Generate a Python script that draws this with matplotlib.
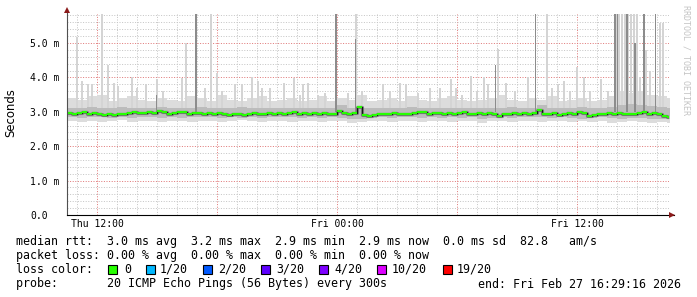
import numpy as np
import matplotlib
matplotlib.use("Agg")
import matplotlib.pyplot as plt
from matplotlib.patches import Rectangle

# ---------------- data ----------------
# median rtt (ms), one value every 15 minutes starting Thu 10:30
median_ms = [2.97, 2.95, 2.96, 2.98, 2.94, 2.96, 2.95,
             2.92, 2.94, 2.91, 2.93,
             2.95, 2.97, 2.98, 2.96, 2.97, 2.99, 2.96,
             3.02, 2.98, 2.95,
             2.96, 2.98, 3.00, 2.94, 2.96, 2.97, 2.95,
             2.97, 2.94, 2.96, 2.93, 2.92, 2.95, 2.94, 2.92, 2.94,
             2.96, 2.93, 2.95, 2.96,
             2.95, 2.97, 2.94, 2.96, 2.98, 2.95, 2.96, 2.94, 2.97, 2.95, 2.96, 2.93, 2.95,
             3.03, 2.96,
             2.94, 2.97,
             3.15,
             2.90, 2.87, 2.90,
             2.94, 2.95, 2.93, 2.96, 2.94, 2.95, 2.93, 2.96,
             3.00, 2.98, 2.95, 2.97,
             2.96, 2.94, 2.97, 2.95, 2.96, 2.98, 2.95, 2.94, 2.96, 2.95, 2.97, 2.94,
             2.88,
             2.93, 2.95, 2.96, 2.94, 2.96, 2.95, 2.97,
             3.04,
             2.95, 2.93, 2.96, 2.92, 2.94, 2.96, 2.95,
             3.00, 2.97,
             2.88, 2.90, 2.93,
             2.95, 2.96, 2.95, 2.97, 2.93, 2.95, 2.94, 2.96,
             2.99, 2.95, 2.97,
             2.94, 2.87, 2.86]

# smoke envelope (ms), one value every 30 minutes
smoke_max = [3.40, 3.35, 3.45, 3.50, 3.30, 3.40, 3.45, 3.35, 3.30, 3.40,
             3.35, 3.30, 3.45, 3.40, 3.30, 3.50, 3.35, 3.30, 3.40, 3.45,
             3.30, 3.35, 3.40, 3.30, 3.35, 3.45, 3.30, 3.40, 3.35, 3.50,
             3.30, 3.35, 3.40, 3.30, 3.45, 3.35, 3.30, 3.40, 3.45, 3.35,
             3.30, 3.35, 3.40, 3.50, 3.35, 3.30, 3.40, 3.35, 3.45, 3.30,
             3.35, 3.40, 3.30, 3.35, 3.45, 3.60, 3.55, 3.60, 3.50, 3.45, 3.40]
smoke_min = [2.72, 2.70, 2.74, 2.70, 2.72, 2.75, 2.70, 2.72, 2.74, 2.70,
             2.73, 2.72, 2.70, 2.74, 2.72, 2.70, 2.73, 2.75, 2.72, 2.70,
             2.72, 2.74, 2.70, 2.72, 2.73, 2.70, 2.72, 2.74, 2.68, 2.70,
             2.72, 2.74, 2.70, 2.72, 2.73, 2.70, 2.74, 2.72, 2.70, 2.73,
             2.72, 2.68, 2.72, 2.74, 2.70, 2.72, 2.73, 2.70, 2.72, 2.74,
             2.70, 2.72, 2.70, 2.72, 2.68, 2.70, 2.72, 2.70, 2.68, 2.70, 2.68]
mid_hi = [3.12, 3.10, 3.14, 3.10, 3.12, 3.15, 3.10, 3.12, 3.10, 3.13,
          3.10, 3.12, 3.10, 3.14, 3.12, 3.10, 3.12, 3.14, 3.10, 3.12,
          3.10, 3.12, 3.10, 3.12, 3.11, 3.10, 3.12, 3.20, 3.12, 3.10,
          3.12, 3.10, 3.12, 3.10, 3.14, 3.12, 3.10, 3.12, 3.10, 3.12,
          3.10, 3.12, 3.10, 3.12, 3.14, 3.12, 3.10, 3.20, 3.12, 3.10,
          3.12, 3.14, 3.12, 3.10, 3.15, 3.20, 3.22, 3.20, 3.18, 3.15, 3.12]
mid_lo = [2.84, 2.83, 2.85, 2.84, 2.82, 2.84, 2.83, 2.85, 2.84, 2.82,
          2.84, 2.83, 2.85, 2.84, 2.84, 2.83, 2.84, 2.82, 2.84, 2.83,
          2.84, 2.85, 2.84, 2.83, 2.84, 2.82, 2.84, 2.83, 2.80, 2.80,
          2.82, 2.84, 2.83, 2.85, 2.84, 2.83, 2.84, 2.82, 2.84, 2.83,
          2.84, 2.80, 2.82, 2.84, 2.83, 2.84, 2.85, 2.84, 2.83, 2.84,
          2.82, 2.80, 2.83, 2.84, 2.82, 2.80, 2.82, 2.81, 2.80, 2.80, 2.79]

# isolated high pings: hours after Thu 10:30, top value in ms
spike_light_h = [0.52, 0.75, 1.05, 1.25, 1.77, 2.07, 2.35, 2.55, 3.23, 3.5,
                 3.95, 4.48, 4.8, 5.77, 5.93, 6.9, 7.2, 7.48, 7.75, 8.4,
                 8.75, 9.27, 9.55, 9.75, 10.15, 10.85, 11.37, 11.65, 11.8, 12.05,
                 12.55, 12.9, 14.05, 14.43, 14.75, 15.8, 16.15, 16.65, 16.93, 17.55,
                 18.15, 18.65, 19.2, 19.43, 19.75, 20.18, 20.5, 20.85, 21.05, 21.57,
                 21.93, 22.4, 23.03, 23.98, 24.25, 24.55, 24.85, 25.15, 25.48, 25.85,
                 26.15, 26.7, 27.05, 27.45, 27.6, 27.75, 27.9, 28.05, 28.2, 28.35,
                 28.5, 28.65, 28.95, 29.15, 29.65, 29.8]
spike_light_top = [5.18, 3.9, 3.8, 3.8, 5.86, 4.36, 3.85, 3.75, 4.02, 3.7,
                   3.8, 3.95, 3.6, 3.98, 5.01, 3.7, 5.86, 4.13, 3.6, 3.8,
                   3.8, 4.01, 3.9, 3.7, 3.7, 3.84, 3.98, 3.5, 3.8, 3.84,
                   3.5, 3.55, 3.55, 5.86, 3.6, 3.82, 3.6, 3.84, 3.82, 3.55,
                   3.7, 3.7, 3.95, 3.7, 3.5, 4.05, 3.6, 4.02, 3.8, 4.83,
                   3.84, 3.6, 4.0, 5.86, 3.7, 3.8, 3.9, 3.6, 4.31, 4.0,
                   3.6, 3.95, 3.6, 5.86, 5.86, 5.86, 5.86, 5.86, 5.86, 5.86,
                   5.86, 4.0, 4.8, 4.2, 5.58, 5.58]
spike_dark_h = [4.48, 6.45, 13.45, 14.43, 21.43, 23.43, 27.4, 27.53, 28.0, 28.4, 28.85, 29.43]
spike_dark_top = [3.5, 5.86, 5.86, 5.12, 4.36, 5.86, 5.86, 5.86, 5.86, 5.0, 5.86, 5.86]

ytick_vals = [0, 1, 2, 3, 4, 5]
ytick_labels = ["0.0", "1.0 m", "2.0 m", "3.0 m", "4.0 m", "5.0 m"]
xtick_vals = [1.5, 7.5, 13.5, 19.5, 25.5]
xtick_labels = ["Thu 12:00", "", "Fri 00:00", "", "Fri 12:00"]

loss_labels = ["0", "1/20", "2/20", "3/20", "4/20", "10/20", "19/20"]
loss_colors = ["#26ff00", "#00b8ff", "#0059ff", "#5e00ff", "#7e00ff", "#dd00ff", "#ff0000"]

# ---------------- figure ----------------
W, H = 697, 297
fig = plt.figure(figsize=(W / 100, H / 100), dpi=100)
fig.patch.set_facecolor("white")
L, R, T, B = 67, 669, 14, 215
ax = fig.add_axes([L / W, 1 - B / H, (R - L) / W, (B - T) / H])
ax.set_xlim(0, 30.1)
ax.set_ylim(0, (B - T) / 34.4)

mono = "DejaVu Sans Mono"

# grid
ax.set_yticks(ytick_vals)
ax.set_yticks(np.arange(0, 5.9, 0.2), minor=True)
ax.set_xticks(xtick_vals)
ax.set_xticks(np.arange(0.5, 30.1, 1.0), minor=True)
ax.grid(which="minor", color="#c6c6c6", linestyle=(0, (1, 1.6)), linewidth=0.72, zorder=0)
ax.grid(which="major", color="#e07a7a", linestyle=(0, (1, 1.6)), linewidth=0.72, zorder=0)
ax.set_axisbelow(True)

ax.set_yticklabels(ytick_labels, family=mono, fontsize=7, ha="left")
ax.set_xticklabels(xtick_labels, family=mono, fontsize=7)
ax.tick_params(axis="y", which="both", length=0, pad=26.6)
ax.tick_params(axis="x", which="both", length=0, pad=3)
for s in ax.spines.values():
    s.set_visible(False)

# smoke
t_smoke = np.arange(len(smoke_max) + 1) * 0.5
def ext(a):
    return list(a) + [a[-1]]
ax.fill_between(t_smoke, ext(smoke_min), ext(smoke_max), step="post",
                color="#dcdcdc", linewidth=0, zorder=1)
ax.bar(spike_light_h, np.array(spike_light_top) - 3.0, bottom=3.0, width=0.1,
       color="#d4d4d4", linewidth=0, zorder=1.5)
ax.fill_between(t_smoke, ext(mid_lo), ext(mid_hi), step="post",
                color="#bcbcbc", linewidth=0, zorder=2)
ax.bar(spike_dark_h, np.array(spike_dark_top) - 3.0, bottom=3.0, width=0.08,
       color="#8c8c8c", linewidth=0, zorder=2.5)

# median
t_med = np.arange(len(median_ms)) * 0.25
tx = list(t_med) + [t_med[-1] + 0.25]
ty = list(median_ms) + [median_ms[-1]]
ax.step(tx, ty, where="post", color="#8a8a8a", linewidth=2.3, zorder=3)
ax.step(tx, ty, where="post", color="#151515", linewidth=1.0, zorder=3.5)
ax.hlines(median_ms, t_med, t_med + 0.25, colors=loss_colors[0], linewidth=1.6, zorder=4)

# axis lines with arrows
ax.plot([0, 0], [0, 1.025], transform=ax.transAxes, color="#505050", lw=0.8,
        clip_on=False, zorder=6)
ax.plot([0, 1.008], [0, 0], transform=ax.transAxes, color="black", lw=0.8,
        clip_on=False, zorder=6)
ax.plot([0], [1.02], marker="^", markersize=4, color="#8b1a1a", transform=ax.transAxes,
        clip_on=False, zorder=7, markeredgewidth=0)
ax.plot([1.005], [0], marker=">", markersize=4, color="#8b1a1a", transform=ax.transAxes,
        clip_on=False, zorder=7, markeredgewidth=0)

# y label
fig.text(11 / W, 1 - 113 / H, "Seconds", rotation=90, ha="center", va="center",
         fontsize=8.4, family="DejaVu Sans")

# watermark
fig.text(686 / W, 1 - 5 / H, "RRDTOOL / TOBI OETIKER", rotation=270, ha="center", va="top",
         fontsize=6, family=mono, color="#c4c4c4")

# legend text
def px(x, y):
    return x / W, 1 - y / H

fs = 8.4
fig.text(*px(16, 241), "median rtt:  3.0 ms avg  3.2 ms max  2.9 ms min  2.9 ms now  0.0 ms sd  82.8   am/s",
         family=mono, fontsize=fs, va="center", ha="left")
fig.text(*px(16, 255.5), "packet loss: 0.00 % avg  0.00 % max  0.00 % min  0.00 % now",
         family=mono, fontsize=fs, va="center", ha="left")
fig.text(*px(16, 269.5), "loss color:", family=mono, fontsize=fs, va="center", ha="left")
box_x = [108, 146, 203, 261, 319, 377, 443]
lab_x = [124, 160, 218, 276, 334, 392, 457]
for bx, lx, lab, col in zip(box_x, lab_x, loss_labels, loss_colors):
    x0, y0 = px(bx, 274)
    fig.patches.append(Rectangle((x0, y0), 9 / W, 9 / H, transform=fig.transFigure,
                                 facecolor=col, edgecolor="black", linewidth=0.8))
    fig.text(*px(lx, 269.5), lab, family=mono, fontsize=fs, va="center", ha="left")
fig.text(*px(16, 284), "probe:       20 ICMP Echo Pings (56 Bytes) every 300s",
         family=mono, fontsize=fs, va="center", ha="left")
fig.text(*px(681, 284), "end: Fri Feb 27 16:29:16 2026",
         family=mono, fontsize=fs, va="center", ha="right")

fig.savefig("out.png", dpi=100, facecolor="white")
